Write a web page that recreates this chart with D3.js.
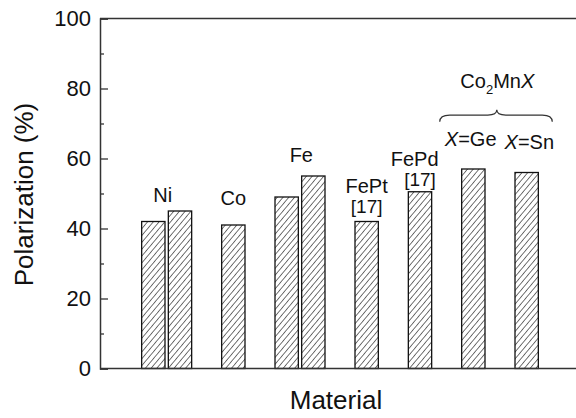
<!DOCTYPE html>
<html>
<head>
<meta charset="utf-8">
<script src="https://cdn.jsdelivr.net/npm/d3@7"></script>
<style>
  body { margin: 0; background: #fff; }
  text { font-family: "Liberation Sans", Arial, sans-serif; fill: #111; }
</style>
</head>
<body>
<script>
// bar data: material, slot on the x axis, polarization (%)
const materials = ['Ni', 'Ni', 'Co', 'Fe', 'Fe', 'FePt', 'FePd', 'Co2MnGe', 'Co2MnSn']
const slots = [0, 1, 3, 5, 6, 8, 10, 12, 14]
const polarization = [42, 45, 41, 49, 55, 42, 50.5, 57, 56]

const majorTicks = [0, 20, 40, 60, 80, 100]
const minorTicks = [10, 30, 50, 70, 90]

// text labels above the bars, anchored in data units (slot, %)
const labelText = ['Ni', 'Co', 'Fe', 'FePt', '[17]', 'FePd', '[17]']
const labelSlot = [0.35, 3, 5.55, 8, 8, 9.8, 10]
const labelValue = [47.6, 46.7, 59, 50.2, 44.4, 58, 52.1]

// Co2MnX labels
const heuslerEl = ['Ge', 'Sn']
const heuslerSlot = [11.9, 14.1]
const heuslerValue = [63.6, 62.6]

const width = 576, height = 418
const margin = {top: 18.5, right: 0, bottom: 49.5, left: 100}

const svg = d3.select('body')
  .append('svg')
  .attr('width', width)
  .attr('height', height)

const hs = 4.4
const pat = svg.append('defs').append('pattern')
  .attr('id', 'hatch')
  .attr('patternUnits', 'userSpaceOnUse')
  .attr('width', hs)
  .attr('height', hs)
  .attr('patternTransform', 'rotate(40)')
pat.append('rect').attr('width', hs).attr('height', hs).attr('fill', '#fff')
pat.append('line')
  .attr('x1', 0).attr('y1', 0).attr('x2', 0).attr('y2', hs)
  .attr('stroke', '#2a2a2a').attr('stroke-width', 1.3)

const x = d3.scaleLinear()
  .domain([-2, 15.85])
  .range([margin.left, width - margin.right])

const y = d3.scaleLinear()
  .domain([0, 100])
  .range([height - margin.bottom, margin.top])

const barW = x(0.875) - x(0)

// bars
svg.selectAll('.bar')
  .data(polarization)
  .enter().append('rect')
    .attr('class', 'bar')
    .attr('x', (d, i) => x(slots[i]) - barW / 2)
    .attr('y', d => y(d))
    .attr('width', barW)
    .attr('height', d => y(0) - y(d))
    .attr('fill', 'url(#hatch)')
    .attr('stroke', '#111')
    .attr('stroke-width', 1.3)

// y axis, ticks pointing inward
const yAxis = svg.append('g')
  .attr('transform', `translate(${margin.left},0)`)
  .call(d3.axisLeft(y).tickValues(majorTicks).tickSize(-8).tickPadding(9).tickFormat(d3.format('d')))
yAxis.selectAll('text')
  .style('font-size', '22px')
  .style('font-family', '"Liberation Sans", Arial, sans-serif')
  .attr('fill', '#111')
yAxis.select('.domain').attr('stroke', '#333').attr('stroke-width', 1.5)
yAxis.selectAll('.tick line').attr('stroke', '#333').attr('stroke-width', 1.3)

svg.append('g')
  .attr('transform', `translate(${margin.left},0)`)
  .call(d3.axisLeft(y).tickValues(minorTicks).tickSize(-4).tickFormat(''))
  .call(g => g.select('.domain').remove())
  .selectAll('.tick line').attr('stroke', '#333').attr('stroke-width', 1.3)

// bottom and top frame lines
svg.append('line')
  .attr('x1', x.range()[0]).attr('x2', x.range()[1])
  .attr('y1', y(0)).attr('y2', y(0))
  .attr('stroke', '#333').attr('stroke-width', 1.5)
svg.append('line')
  .attr('x1', x.range()[0]).attr('x2', x.range()[1])
  .attr('y1', y(100)).attr('y2', y(100))
  .attr('stroke', '#333').attr('stroke-width', 1.5)

// axis titles
svg.append('text')
  .attr('x', (x.range()[0] + x.range()[1]) / 2 - 2)
  .attr('y', 409)
  .attr('text-anchor', 'middle')
  .style('font-size', '26px')
  .text('Material')

svg.append('text')
  .attr('transform', `translate(33,${(y(0) + y(100)) / 2 + 1}) rotate(-90)`)
  .attr('text-anchor', 'middle')
  .style('font-size', '26px')
  .text('Polarization (%)')

// material labels
svg.selectAll('.lbl')
  .data(labelText)
  .enter().append('text')
    .attr('class', 'lbl')
    .attr('x', (d, i) => x(labelSlot[i]))
    .attr('y', (d, i) => y(labelValue[i]))
    .attr('text-anchor', 'middle')
    .style('font-size', d => d === '[17]' ? '19px' : '20px')
    .text(d => d)

// Co2MnX group
heuslerEl.forEach((el, i) => {
  const t = svg.append('text')
    .attr('x', x(heuslerSlot[i]))
    .attr('y', y(heuslerValue[i]))
    .attr('text-anchor', 'middle')
    .style('font-size', '20px')
  t.append('tspan').style('font-style', 'italic').text('X')
  t.append('tspan').text('=' + el)
})

const grp = svg.append('text')
  .attr('x', x(12.9))
  .attr('y', y(80.1))
  .attr('text-anchor', 'middle')
  .style('font-size', '20px')
grp.append('tspan').text('Co')
grp.append('tspan').attr('dy', 6).style('font-size', '13px').text('2')
grp.append('tspan').attr('dy', -6).text('Mn')
grp.append('tspan').style('font-style', 'italic').text('X')

// brace over the two Heusler bars
const bl = x(10.74), br = x(14.96), bm = x(12.88)
const yEnd = y(70.5), yMid = y(72.4), yPeak = y(73.9)
const brace = d3.path()
brace.moveTo(bl, yEnd)
brace.quadraticCurveTo(bl, yMid, bl + 10, yMid)
brace.lineTo(bm - 9, yMid)
brace.quadraticCurveTo(bm, yMid, bm, yPeak)
brace.quadraticCurveTo(bm, yMid, bm + 9, yMid)
brace.lineTo(br - 10, yMid)
brace.quadraticCurveTo(br, yMid, br, yEnd)
svg.append('path')
  .attr('d', brace.toString())
  .attr('fill', 'none')
  .attr('stroke', '#333')
  .attr('stroke-width', 1.2)
</script>
</body>
</html>
